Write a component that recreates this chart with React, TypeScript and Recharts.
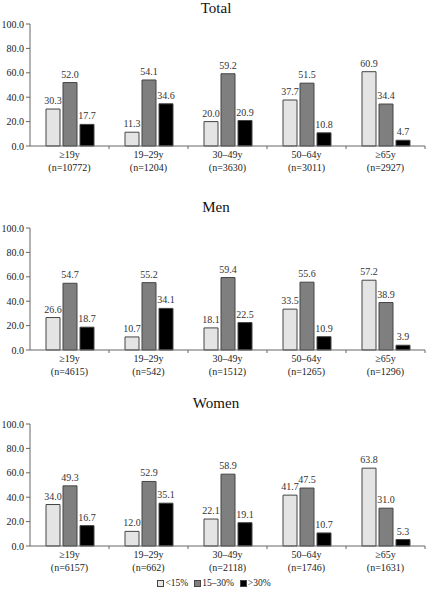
import { BarChart, Bar, XAxis, YAxis, LabelList } from 'recharts';

const ageGroups = ['≥19y', '19–29y', '30–49y', '50–64y', '≥65y'];

const totalN = [10772, 1204, 3630, 3011, 2927];
const totalLow = [30.3, 11.3, 20.0, 37.7, 60.9];
const totalMid = [52.0, 54.1, 59.2, 51.5, 34.4];
const totalHigh = [17.7, 34.6, 20.9, 10.8, 4.7];

const menN = [4615, 542, 1512, 1265, 1296];
const menLow = [26.6, 10.7, 18.1, 33.5, 57.2];
const menMid = [54.7, 55.2, 59.4, 55.6, 38.9];
const menHigh = [18.7, 34.1, 22.5, 10.9, 3.9];

const womenN = [6157, 662, 2118, 1746, 1631];
const womenLow = [34.0, 12.0, 22.1, 41.7, 63.8];
const womenMid = [49.3, 52.9, 58.9, 47.5, 31.0];
const womenHigh = [16.7, 35.1, 19.1, 10.7, 5.3];

const yTicks = [0, 20, 40, 60, 80, 100];

const legendItems = [
  { name: '<15%', color: '#e4e4e4' },
  { name: '15–30%', color: '#7f7f7f' },
  { name: '>30%', color: '#000000' },
];

const FONT = '"Liberation Serif", "Times New Roman", serif';
const CHART_W = 444;
const PLOT_LEFT = 30;
const PLOT_RIGHT = 19;
const BAND = (CHART_W - PLOT_LEFT - PLOT_RIGHT) / ageGroups.length;

function buildRows(n: number[], low: number[], mid: number[], high: number[]) {
  return ageGroups.map((g, i) => ({ group: g, n: n[i], low: low[i], mid: mid[i], high: high[i] }));
}

const fmt = (v: any) => Number(v).toFixed(1);

function AgeTick(props: any) {
  const { x, y, payload, index, data } = props;
  const row = data[index];
  return (
    <g>
      <line x1={x + BAND / 2} x2={x + BAND / 2} y1={y} y2={y + 3} stroke="#666" />
      <text x={x} y={y + 12} textAnchor="middle" fontSize={10} fill="#222" fontFamily={FONT}>
        {payload.value}
      </text>
      <text x={x} y={y + 25} textAnchor="middle" fontSize={10} fill="#222" fontFamily={FONT}>
        (n={row.n})
      </text>
    </g>
  );
}

function Panel({ title, top, titleY, rows }: { title: string; top: number; titleY: number; rows: any[] }) {
  return (
    <>
      <div
        style={{
          position: 'absolute',
          left: 0,
          width: 432,
          top: titleY - 9,
          textAlign: 'center',
          fontSize: 15,
          lineHeight: '18px',
          fontFamily: FONT,
          color: '#111',
        }}
      >
        {title}
      </div>
      <div style={{ position: 'absolute', left: 0, top: top - 10 }}>
        <BarChart
          width={CHART_W}
          height={180}
          data={rows}
          margin={{ top: 10, right: PLOT_RIGHT, left: 0, bottom: 18 }}
          barSize={14}
          barGap={3}
        >
          <XAxis
            dataKey="group"
            axisLine={{ stroke: '#666' }}
            tickLine={false}
            tickSize={0}
            tickMargin={0}
            height={30}
            interval={0}
            tick={<AgeTick data={rows} />}
          />
          <YAxis
            width={PLOT_LEFT}
            domain={[0, 100]}
            ticks={yTicks}
            tickFormatter={(v: number) => v.toFixed(1)}
            axisLine={{ stroke: '#666' }}
            tickLine={{ stroke: '#666' }}
            tickSize={4}
            tickMargin={2}
            tick={{ fontSize: 10, fill: '#222', fontFamily: FONT }}
          />
          <Bar dataKey="low" fill="#e4e4e4" stroke="#444" strokeWidth={1} isAnimationActive={false}>
            <LabelList dataKey="low" position="top" offset={5} formatter={fmt} fill="#333" fontSize={10} fontFamily={FONT} />
          </Bar>
          <Bar dataKey="mid" fill="#7f7f7f" stroke="#444" strokeWidth={1} isAnimationActive={false}>
            <LabelList dataKey="mid" position="top" offset={5} formatter={fmt} fill="#333" fontSize={10} fontFamily={FONT} />
          </Bar>
          <Bar dataKey="high" fill="#000000" stroke="#444" strokeWidth={1} isAnimationActive={false}>
            <LabelList dataKey="high" position="top" offset={5} formatter={fmt} fill="#333" fontSize={10} fontFamily={FONT} />
          </Bar>
        </BarChart>
      </div>
    </>
  );
}

export default function App() {
  return (
    <div style={{ position: 'absolute', left: 0, top: 0, width: 444, height: 594, background: '#fff', overflow: 'hidden' }}>
      <Panel title="Total" titleY={8} top={24} rows={buildRows(totalN, totalLow, totalMid, totalHigh)} />
      <Panel title="Men" titleY={207} top={228} rows={buildRows(menN, menLow, menMid, menHigh)} />
      <Panel title="Women" titleY={403} top={424} rows={buildRows(womenN, womenLow, womenMid, womenHigh)} />
      <div
        style={{
          position: 'absolute',
          left: 0,
          width: 428,
          top: 577,
          display: 'flex',
          justifyContent: 'center',
          gap: 6,
          fontFamily: FONT,
          fontSize: 9.5,
          color: '#222',
          lineHeight: '12px',
        }}
      >
        {legendItems.map((it) => (
          <span key={it.name} style={{ display: 'flex', alignItems: 'center', gap: 1 }}>
            <span style={{ width: 5, height: 5, background: it.color, border: '1px solid #444', display: 'inline-block' }} />
            {it.name}
          </span>
        ))}
      </div>
    </div>
  );
}
